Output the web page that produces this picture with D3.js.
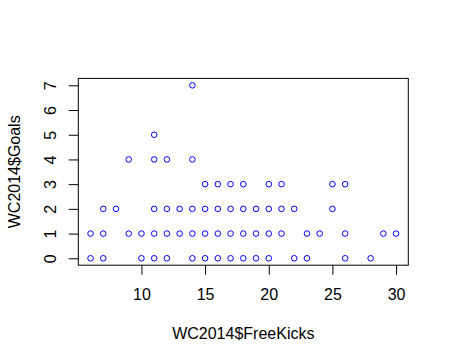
<!DOCTYPE html>
<html>
<head>
<meta charset="utf-8">
<script src="https://cdn.jsdelivr.net/npm/d3@7"></script>
<style>
  body { margin: 0; background: #fff; }
  text { font-family: "Liberation Sans", Arial, sans-serif; }
</style>
</head>
<body>
<div id="chart"></div>
<script>
// scatter of WC2014 goals vs free kicks, R base-graphics look

// points per goal count (x = free kicks)
var goals0 = [6, 7, 10, 11, 12, 14, 15, 16, 17, 18, 19, 20, 22, 23, 26, 28];
var goals1 = [6, 7, 9, 10, 11, 12, 13, 14, 15, 16, 17, 18, 19, 20, 21, 23, 24, 26, 29, 30];
var goals2 = [7, 8, 11, 12, 13, 14, 15, 16, 17, 18, 19, 20, 21, 22, 25];
var goals3 = [15, 16, 17, 18, 20, 21, 25, 26];
var goals4 = [9, 11, 12, 14];
var goals5 = [11];
var goals7 = [14];

var xTicks = [10, 15, 20, 25, 30];
var yTicks = [0, 1, 2, 3, 4, 5, 6, 7];

var xLabel = "WC2014$FreeKicks";
var yLabel = "WC2014$Goals";

var rows = [[0, goals0], [1, goals1], [2, goals2], [3, goals3], [4, goals4], [5, goals5], [7, goals7]];
var points = [];
rows.forEach(function (r) {
  r[1].forEach(function (fk) { points.push({ x: fk, y: r[0] }); });
});

var W = 449, H = 363;
var box = { left: 78.3, right: 408.3, top: 78.4, bottom: 265.2 };

// R pads the data range by 4%
var xs = d3.scaleLinear().domain([5.04, 30.96]).range([box.left, box.right]);
var ys = d3.scaleLinear().domain([-0.28, 7.28]).range([box.bottom, box.top]);

var svg = d3.select("#chart").append("svg")
  .attr("width", W).attr("height", H);

// x axis
var gx = svg.append("g")
  .attr("transform", "translate(0," + box.bottom + ")")
  .call(d3.axisBottom(xs).tickValues(xTicks).tickSize(9.6).tickPadding(14).tickFormat(d3.format("d")));
gx.select(".domain").remove();
gx.selectAll("line").attr("stroke", "#000");
gx.selectAll("text").attr("font-size", 16).attr("fill", "#000")
  .attr("font-family", "Liberation Sans, Arial, sans-serif");

// y axis, labels rotated like R's las=0
var gy = svg.append("g")
  .attr("transform", "translate(" + box.left + ",0)")
  .call(d3.axisLeft(ys).tickValues(yTicks).tickSize(9.6).tickFormat(d3.format("d")));
gy.select(".domain").remove();
gy.selectAll("line").attr("stroke", "#000");
gy.selectAll("text").remove();
gy.selectAll(".tick").append("text")
  .attr("transform", "translate(" + (56 - box.left) + ",0) rotate(-90)")
  .attr("text-anchor", "middle")
  .attr("font-size", 16)
  .attr("fill", "#000")
  .text(function (d) { return d; });

// plot box
svg.append("rect")
  .attr("x", box.left).attr("y", box.top)
  .attr("width", box.right - box.left).attr("height", box.bottom - box.top)
  .attr("fill", "none").attr("stroke", "#000").attr("stroke-width", 1);

// points
svg.append("g").selectAll("circle")
  .data(points)
  .enter().append("circle")
  .attr("cx", function (d) { return xs(d.x); })
  .attr("cy", function (d) { return ys(d.y); })
  .attr("r", 2.8)
  .attr("fill", "none")
  .attr("stroke", "#0000ff")
  .attr("stroke-width", 1);

// axis titles
svg.append("text")
  .attr("x", (box.left + box.right) / 2).attr("y", 339)
  .attr("text-anchor", "middle").attr("font-size", 16).attr("fill", "#000")
  .text(xLabel);

svg.append("text")
  .attr("transform", "translate(19.5," + (box.top + box.bottom) / 2 + ") rotate(-90)")
  .attr("text-anchor", "middle").attr("font-size", 16).attr("fill", "#000")
  .text(yLabel);
</script>
</body>
</html>
